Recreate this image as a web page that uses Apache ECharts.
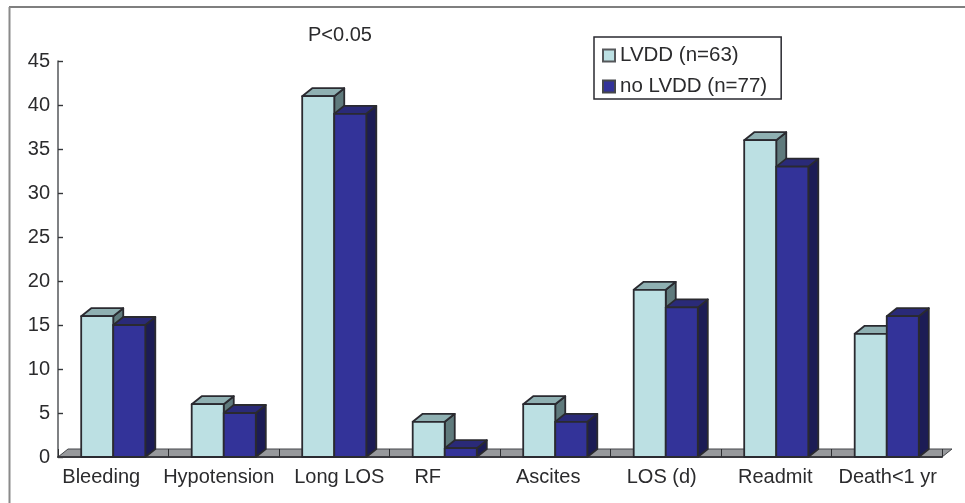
<!DOCTYPE html>
<html><head><meta charset="utf-8">
<style>html,body{margin:0;padding:0;background:#fff}#c{width:965px;height:503px}</style>
<script src="https://cdn.jsdelivr.net/npm/echarts@6/dist/echarts.min.js"></script>
</head><body><div id="c"></div>
<script>
const categories=['Bleeding','Hypotension','Long LOS','RF','Ascites','LOS (d)','Readmit','Death<1 yr'];
const lvdd=[16,6,41,4,6,19,36,14];
const noLvdd=[15,5,39,1,4,17,33,16];
const labelShift=[12,5,-5,17,7,4,1,-1];
const seriesNames=['LVDD (n=63)','no LVDD (n=77)'];
const font='"Liberation Sans",Arial,sans-serif';
const ink='#2b2b2d';
const depthX=10, depthY=8;
function bar3d(side,front,top,right){
  return function(params,api){
    const idx=api.value(0), val=api.value(1);
    const base=api.coord([idx,0]), up=api.coord([idx,val]);
    const w=api.size([1,0])[0]*0.29;
    const x0=side<0?base[0]-w:base[0], x1=x0+w, y0=base[1], y1=up[1];
    const st={stroke:'#2a2a30',lineWidth:1.8,lineJoin:'round'};
    return {type:'group',children:[
      {type:'polygon',shape:{points:[[x1,y0],[x1+depthX,y0-depthY],[x1+depthX,y1-depthY],[x1,y1]]},style:Object.assign({fill:right},st)},
      {type:'polygon',shape:{points:[[x0,y1],[x0+depthX,y1-depthY],[x1+depthX,y1-depthY],[x1,y1]]},style:Object.assign({fill:top},st)},
      {type:'rect',shape:{x:x0,y:y1,width:w,height:y0-y1},style:Object.assign({fill:front},st)}
    ]};
  };
}
function floor(params,api){
  const c=params.coordSys, b=c.y+c.height, r=c.x+c.width;
  return {type:'polygon',shape:{points:[[c.x,b],[c.x+depthX,b-depthY],[r+depthX,b-depthY],[r,b]]},
    style:{fill:'#97999c',stroke:'#45474a',lineWidth:1}};
}
const chart=echarts.init(document.getElementById('c'),null,{renderer:'canvas'});
chart.setOption({
  animation:false,
  backgroundColor:'#fff',
  title:{text:'P<0.05',left:308,top:25,padding:0,textStyle:{fontFamily:font,fontSize:20,fontWeight:'normal',color:ink}},
  legend:{orient:'vertical',left:594,top:37,padding:[8,14,2,8],itemGap:10,itemWidth:12,itemHeight:12,
    backgroundColor:'#fff',borderColor:'#2a2a30',borderWidth:1.5,borderRadius:0,
    icon:'rect',data:seriesNames,
    textStyle:{fontFamily:font,fontSize:20.5,color:ink,padding:[0,0,0,0]}},
  grid:{left:58,right:23,top:61,bottom:46},
  xAxis:{type:'category',z:1,
    data:categories.map((c,i)=>({value:c,textStyle:{padding:labelShift[i]>0?[0,labelShift[i]*2,0,0]:[0,0,0,-labelShift[i]*2]}})),
    axisLine:{lineStyle:{color:'#3a3a3e',width:2}},
    axisTick:{show:true,alignWithLabel:false,inside:true,length:8,lineStyle:{color:'#2f3033',width:1}},
    axisLabel:{interval:0,margin:10,fontFamily:font,fontSize:20,color:ink},
    splitLine:{show:false}},
  yAxis:{type:'value',min:0,max:45,interval:5,
    axisLine:{show:true,lineStyle:{color:'#55575a',width:1.5}},
    axisTick:{show:true,inside:true,length:5,lineStyle:{color:'#35373a',width:1.4}},
    axisLabel:{margin:8,fontFamily:font,fontSize:20,color:ink},
    splitLine:{show:false}},
  graphic:[
    {type:'line',shape:{x1:9,y1:7,x2:965,y2:7},style:{stroke:'#555',lineWidth:1.4},silent:true},
    {type:'line',shape:{x1:9.5,y1:7,x2:9.5,y2:503},style:{stroke:'#8a8a8a',lineWidth:2},silent:true}
  ],
  series:[
    {type:'custom',name:'floor',z:-1,renderItem:floor,data:[[0]],encode:{x:0},silent:true,legendHoverLink:false},
    {type:'custom',name:seriesNames[0],z:2,renderItem:bar3d(-1,'#bce0e3','#8fb0b2','#5f7a7c'),
      itemStyle:{color:'#bce0e3',borderColor:'#55575a',borderWidth:1.5},
      data:lvdd.map((v,i)=>[i,v]),encode:{x:0,y:1}},
    {type:'custom',name:seriesNames[1],z:3,renderItem:bar3d(1,'#333399','#2a2a78','#1c1c55'),
      itemStyle:{color:'#333399',borderColor:'#45474a',borderWidth:1.5},
      data:noLvdd.map((v,i)=>[i,v]),encode:{x:0,y:1}}
  ]
});
</script></body></html>
